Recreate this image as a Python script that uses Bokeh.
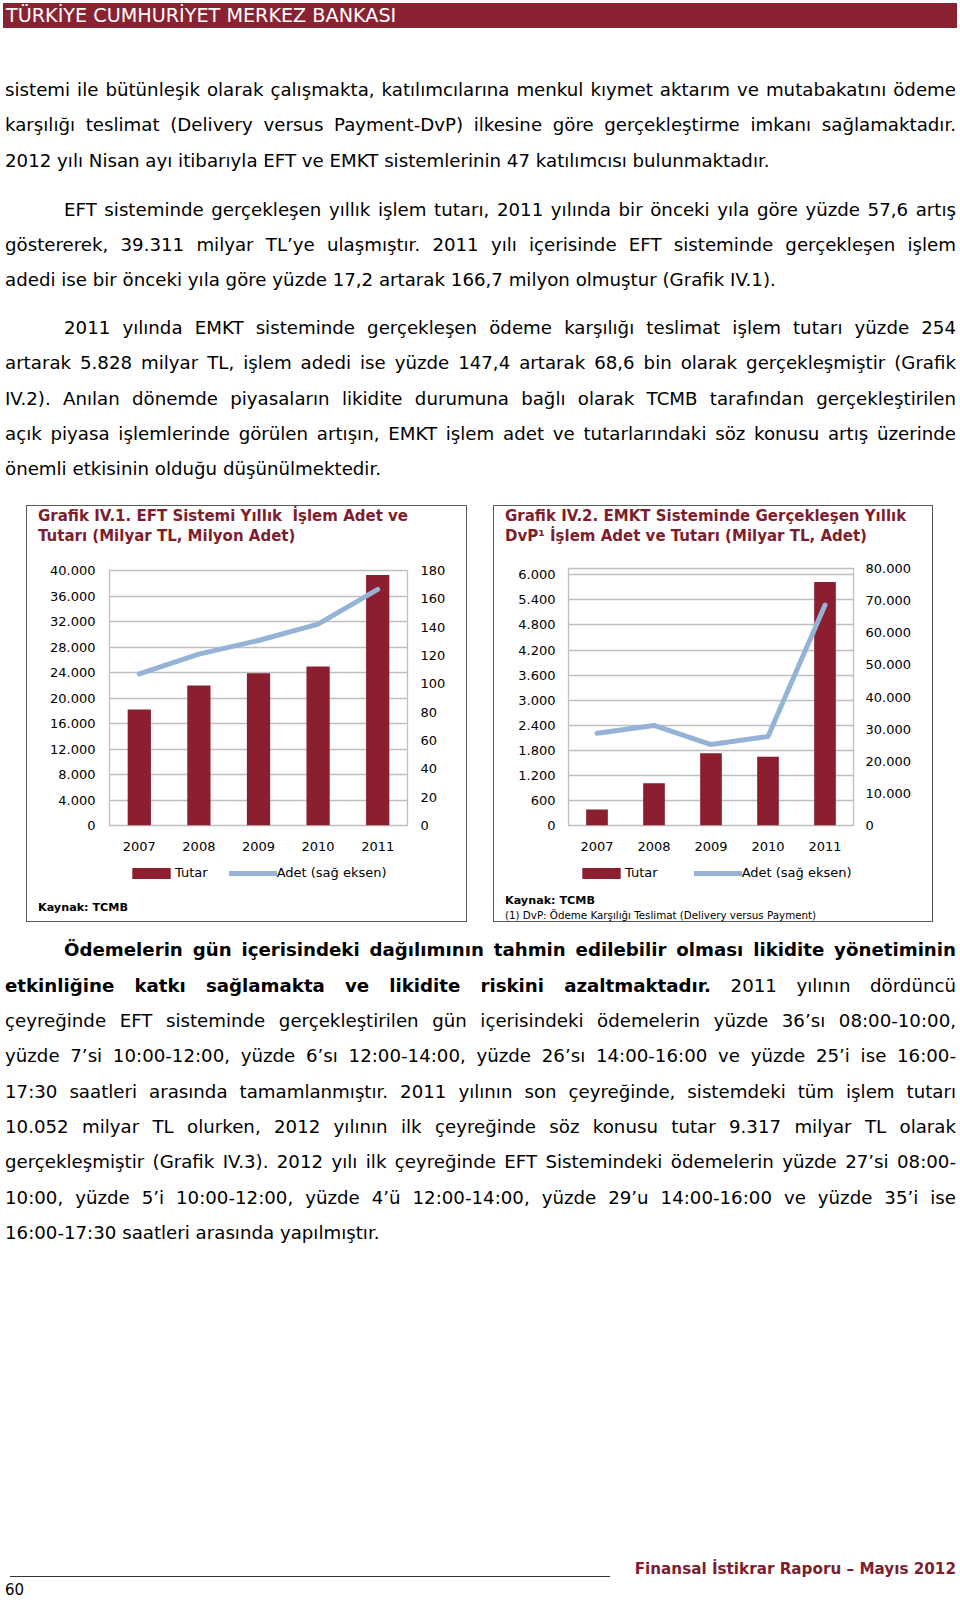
from bokeh.plotting import figure
from bokeh.models import (FactorRange, Range1d, LinearAxis, FixedTicker,
                          Legend, LegendItem, Div, Spacer, ColumnDataSource)
from bokeh.layouts import column, row
from bokeh.embed import file_html
from bokeh.resources import INLINE

# ---------------- data ----------------
years = ["2007", "2008", "2009", "2010", "2011"]
eft_tutar = [18200, 21960, 23870, 24944, 39311]          # milyar TL
eft_adet = [107.0, 121.0, 130.6, 142.2, 166.7]           # milyon adet
emkt_tutar = [383, 1012, 1730, 1646, 5828]                # milyar TL
emkt_adet = [28730, 31130, 25210, 27730, 68600]           # adet
eft_left_ticks = [0, 4000, 8000, 12000, 16000, 20000, 24000, 28000, 32000, 36000, 40000]
eft_right_ticks = [0, 20, 40, 60, 80, 100, 120, 140, 160, 180]
emkt_left_ticks = [0, 600, 1200, 1800, 2400, 3000, 3600, 4200, 4800, 5400, 6000]
emkt_right_ticks = [0, 10000, 20000, 30000, 40000, 50000, 60000, 70000, 80000]
legend_labels = ["Tutar", "Adet (sağ eksen)"]

BAR = "#8B1E2F"
LINE = "#95B3D7"
TITLE = "#7E1D2D"
GRID = "#BFBFBF"
FONT = "DejaVu Sans"


def fmt(v):
    return f"{v:,}".replace(",", ".")


def text_line(text, left, baseline, origin, size, width=None, justify=False, bold=False,
              color="#000", lh=24, align=None):
    off = (lh - 1.164 * size) / 2 + 0.928 * size
    top = baseline - origin - off
    al = align or ("justify" if justify else "left")
    w = f"width:{width}px;" if width is not None else ""
    return (f'<div style="position:absolute;left:{left}px;top:{top:.1f}px;{w}'
            f'height:{lh}px;line-height:{lh}px;font-family:\'{FONT}\';font-size:{size}px;'
            f'font-weight:{"bold" if bold else "normal"};white-space:nowrap;color:{color};'
            f'text-align:{al};text-align-last:{al};">{text}</div>')


def make_chart(width, height, ml, mr, mt, mb, yl_end, yr_end, lticks, rticks,
               tutar, adet, bar_w, lstand, rstand):
    src = ColumnDataSource(dict(x=years, top=tutar, adet=adet))
    p = figure(x_range=FactorRange(*years, range_padding=0),
               y_range=Range1d(0, yl_end), width=width, height=height,
               min_border_left=ml, min_border_right=mr, min_border_top=mt,
               min_border_bottom=mb, toolbar_location=None, output_backend="svg")
    p.title.visible = False
    p.extra_y_ranges = {"r": Range1d(0, yr_end)}
    p.vbar(x="x", top="top", width=bar_w, source=src, fill_color=BAR, line_color=None)
    p.line(x="x", y="adet", source=src, y_range_name="r", line_width=5,
           line_color=LINE, line_cap="round", line_join="round")

    ra = LinearAxis(y_range_name="r")
    p.add_layout(ra, "right")
    for ax, ticks, st in ((p.yaxis[0], lticks, lstand), (ra, rticks, rstand)):
        ax.ticker = FixedTicker(ticks=ticks)
        ax.major_label_overrides = {t: fmt(t) for t in ticks}
        ax.major_label_standoff = st
    for ax in p.axis:
        ax.axis_line_color = None
        ax.major_tick_line_color = None
        ax.minor_tick_line_color = None
        ax.major_tick_out = 0
        ax.major_tick_in = 0
        ax.major_label_text_font = FONT
        ax.major_label_text_font_size = "13px"
        ax.major_label_text_color = "#000000"
    p.xaxis.major_label_standoff = 16

    p.xgrid.visible = False
    p.ygrid.ticker = FixedTicker(ticks=lticks)
    p.ygrid.grid_line_color = GRID
    p.ygrid.grid_line_width = 1.3
    p.outline_line_color = GRID
    p.outline_line_width = 1.3
    p.background_fill_color = "white"
    p.border_fill_color = "white"
    return p


def make_legend(width, x0, spacing):
    # small companion plot that only carries the legend (its frame is aligned
    # with the chart frame above it by the column layout)
    lf = figure(width=width, height=24, x_axis_type=None, y_axis_type=None,
                x_range=Range1d(0, 1), y_range=Range1d(0, 1),
                toolbar_location=None, output_backend="svg", min_border=0)
    lf.title.visible = False
    lf.outline_line_color = None
    lf.grid.visible = False
    r1 = lf.vbar(x=[-5], top=[-4], bottom=[-5], width=0.5, fill_color=BAR, line_color=None)
    r2 = lf.line(x=[-5, -4], y=[-5, -5], line_width=5, line_color=LINE, line_cap="round")
    lg = Legend(items=[LegendItem(label=legend_labels[0], renderers=[r1]),
                       LegendItem(label=legend_labels[1], renderers=[r2])],
                location=(x0, 4), orientation="horizontal", glyph_width=48,
                glyph_height=14, label_standoff=-1, spacing=spacing, padding=0, margin=0,
                border_line_color=None, background_fill_alpha=0,
                label_text_font=FONT, label_text_font_size="13px",
                label_text_color="#000000")
    lf.add_layout(lg)
    return lf


def chart_box(p, lf, width, titles, notes):
    tdiv = Div(text=('<div style="position:relative;width:%dpx;height:48px;">' % width)
               + "".join(text_line(t, 11, b, 506, 15, bold=True, color=TITLE)
                         for t, b in titles) + "</div>",
               width=width, height=48, margin=0)
    ndiv = Div(text=('<div style="position:relative;width:%dpx;height:37px;">' % width)
               + "".join(text_line(t, 11, b, 884, s, bold=bd, lh=16)
                         for t, b, s, bd in notes) + "</div>",
               width=width, height=37, margin=0)
    return column(tdiv, p, lf, ndiv, spacing=0,
                  styles={"outline": "1.5px solid #5a5a5a"})


p1 = make_chart(439, 306, 82, 59, 16, 35, 40000, 180, eft_left_ticks, eft_right_ticks,
                eft_tutar, eft_adet, 0.39, 14, 13)
p2 = make_chart(438, 306, 74, 79, 14, 35, 6000 * 257 / 250.7, 80000, emkt_left_ticks,
                emkt_right_ticks, emkt_tutar, emkt_adet, 0.38, 13, 12)
l1 = make_legend(439, 18, 21)
l2 = make_legend(438, 9, 36)

box1 = chart_box(p1, l1, 439,
                 [("Grafik IV.1. EFT Sistemi Yıllık&nbsp; İşlem Adet ve", 521.5),
                  ("Tutarı (Milyar TL, Milyon Adet)", 541.5)],
                 [("Kaynak: TCMB", 911.5, 11.2, True)])
box2 = chart_box(p2, l2, 438,
                 [("Grafik IV.2. EMKT Sisteminde Gerçekleşen Yıllık", 521.5),
                  ("DvP¹ İşlem Adet ve Tutarı (Milyar TL, Adet)", 541.5)],
                 [("Kaynak: TCMB", 904.5, 11.2, True),
                  ("(1) DvP: Ödeme Karşılığı Teslimat (Delivery versus Payment)", 919, 10.3, False)])

# ---------------- page text ----------------
FS = 18.2

top_lines = [
    ("sistemi ile bütünleşik olarak çalışmakta, katılımcılarına menkul kıymet aktarım ve mutabakatını ödeme", 0, 96.1, True),
    ("karşılığı teslimat (Delivery versus Payment-DvP) ilkesine göre gerçekleştirme imkanı sağlamaktadır.", 0, 131.5, True),
    ("2012 yılı Nisan ayı itibarıyla EFT ve EMKT sistemlerinin 47 katılımcısı bulunmaktadır.", 0, 166.8, False),
    ("EFT sisteminde gerçekleşen yıllık işlem tutarı, 2011 yılında bir önceki yıla göre yüzde 57,6 artış", 1, 215.8, True),
    ("göstererek, 39.311 milyar TL’ye ulaşmıştır. 2011 yılı içerisinde EFT sisteminde gerçekleşen işlem", 0, 251.1, True),
    ("adedi ise bir önceki yıla göre yüzde 17,2 artarak 166,7 milyon olmuştur (Grafik IV.1).", 0, 286.4, False),
    ("2011 yılında EMKT sisteminde gerçekleşen ödeme karşılığı teslimat işlem tutarı yüzde 254", 1, 334.4, True),
    ("artarak 5.828 milyar TL, işlem adedi ise yüzde 147,4 artarak 68,6 bin olarak gerçekleşmiştir (Grafik", 0, 369.7, True),
    ("IV.2). Anılan dönemde piyasaların likidite durumuna bağlı olarak TCMB tarafından gerçekleştirilen", 0, 405.0, True),
    ("açık piyasa işlemlerinde görülen artışın, EMKT işlem adet ve tutarlarındaki söz konusu artış üzerinde", 0, 440.3, True),
    ("önemli etkisinin olduğu düşünülmektedir.", 0, 475.6, False),
]

bottom_lines = [
    ("<b>Ödemelerin gün içerisindeki dağılımının tahmin edilebilir olması likidite yönetiminin</b>", 1, 956.6, True),
    ("<b>etkinliğine katkı sağlamakta ve likidite riskini azaltmaktadır.</b> 2011 yılının dördüncü", 0, 992.1, True),
    ("çeyreğinde EFT sisteminde gerçekleştirilen gün içerisindeki ödemelerin yüzde 36’sı 08:00-10:00,", 0, 1027.1, True),
    ("yüzde 7’si 10:00-12:00, yüzde 6’sı 12:00-14:00, yüzde 26’sı 14:00-16:00 ve yüzde 25’i ise 16:00-", 0, 1062.6, True),
    ("17:30 saatleri arasında tamamlanmıştır. 2011 yılının son çeyreğinde, sistemdeki tüm işlem tutarı", 0, 1098.1, True),
    ("10.052 milyar TL olurken, 2012 yılının ilk çeyreğinde söz konusu tutar 9.317 milyar TL olarak", 0, 1133.6, True),
    ("gerçekleşmiştir (Grafik IV.3). 2012 yılı ilk çeyreğinde EFT Sistemindeki ödemelerin yüzde 27’si 08:00-", 0, 1168.6, True),
    ("10:00, yüzde 5’i 10:00-12:00, yüzde 4’ü 12:00-14:00, yüzde 29’u 14:00-16:00 ve yüzde 35’i ise", 0, 1204.1, True),
    ("16:00-17:30 saatleri arasında yapılmıştır.", 0, 1239.1, False),
]


def block(lines, origin):
    out = []
    for txt, ind, base, just in lines:
        left = 64 if ind else 5
        width = 892 if ind else 951
        out.append(text_line(txt, left, base, origin, FS, width=width, justify=just))
    return "".join(out)


header = ('<div style="position:absolute;left:3px;top:3px;width:954px;height:24.5px;'
          'background:#8B2232;"></div>'
          + text_line("TÜRKİYE CUMHURİYET MERKEZ BANKASI", 6, 22.3, 0, 19.2,
                      color="#ffffff", lh=24))

top_html = ('<div style="position:relative;width:960px;height:506px;">'
            + header + block(top_lines, 0) + '</div>')

footer = ('<div style="position:absolute;left:10px;top:655px;width:600px;height:0px;'
          'border-top:1px solid #333333;"></div>'
          + text_line("Finansal İstikrar Raporu – Mayıs 2012", 0, 1574.5, 921, 15.2,
                      width=956, bold=True, color=TITLE, align="right")
          + text_line("60", 5, 1595, 921, 15, lh=16))

bottom_html = ('<div style="position:relative;width:960px;height:675px;">'
               + block(bottom_lines, 921) + footer + '</div>')

top_div = Div(text=top_html, width=960, height=506, margin=0)
bottom_div = Div(text=bottom_html, width=960, height=675, margin=0)

layout = column(top_div,
                row(Spacer(width=27, height=415), box1, Spacer(width=28, height=415), box2,
                    spacing=0),
                bottom_div, spacing=0)

open("out.html", "w").write(file_html(layout, INLINE))
